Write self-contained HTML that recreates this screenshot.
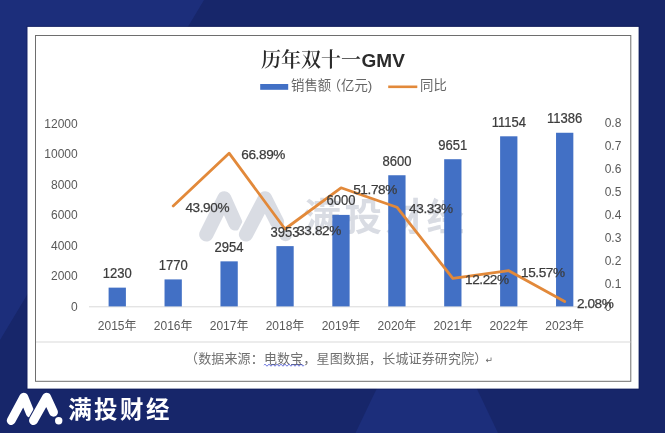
<!DOCTYPE html>
<html lang="zh"><head><meta charset="utf-8"><title>历年双十一GMV</title>
<style>html,body{margin:0;padding:0;background:#17266a}svg{display:block;filter:blur(0.4px)}
text{font-family:"Liberation Sans","Noto Sans CJK SC",sans-serif}
.ax{font-size:12px;fill:#595959}.dl{font-size:14.1px;fill:#3c3c3c;stroke:#3c3c3c;stroke-width:0.25px}.pl{font-size:13.6px;fill:#3c3c3c;stroke:#3c3c3c;stroke-width:0.25px;letter-spacing:-0.4px}
.lg{font-size:13.4px;fill:#666}.ft{font-size:13px;fill:#707070;letter-spacing:0.15px}
.ttl{font-family:"Liberation Serif","Noto Serif CJK SC",serif;font-size:20px;fill:#2b2b2b;font-weight:600}
.gmv{font-family:"Liberation Sans",sans-serif;font-weight:bold;font-size:19px;fill:#2b2b2b}
.brand{font-family:"Liberation Sans","Noto Sans CJK SC",sans-serif;font-weight:bold}
</style></head><body>
<svg width="665" height="433" viewBox="0 0 665 433">
<defs><g id="logo"><path d="M11.2 420.5 L23.8 397.2 L30.3 413.2" fill="none" stroke="currentColor" stroke-width="8.9" stroke-linecap="round" stroke-linejoin="round"/><path d="M33.5 420.5 L46.6 397.2" fill="none" stroke="var(--gap)" stroke-width="11" stroke-linecap="round"/><path d="M33.5 420.5 L46.6 397.2 L53.5 412.2" fill="none" stroke="currentColor" stroke-width="8.9" stroke-linecap="round" stroke-linejoin="round"/><circle cx="58.7" cy="420.8" r="3.7" fill="currentColor"/></g></defs>
<rect width="665" height="433" fill="#17266a"/>
<polygon points="0,0 204,0 0,340" fill="#1c2e7b"/>
<polygon points="426.8,284 355.5,433 498,433" fill="#1c2e7b"/>
<rect x="27" y="26.4" width="612.1" height="362.7" fill="none" stroke="#0f1750" stroke-opacity="0.55" stroke-width="1"/>
<rect x="27.5" y="26.9" width="611.1" height="361.7" fill="#fff"/>
<rect x="35.5" y="35.5" width="595.3" height="345.8" fill="none" stroke="#6e6e6e" stroke-width="1"/>
<line x1="36" y1="342" x2="630.5" y2="342" stroke="#d9d9d9" stroke-width="1"/>
<text class="ttl" x="261" y="66.6">历年双十一</text><text class="gmv" x="361.6" y="66.8">GMV</text>
<rect x="260.2" y="84" width="28" height="5.8" fill="#4270c5"/>
<text class="lg" x="291" y="90.4">销售额<tspan dx="-3.5">（</tspan>亿元)</text>
<line x1="388.2" y1="86.8" x2="417.3" y2="86.8" stroke="#e2893a" stroke-width="2.6"/>
<text class="lg" x="420" y="90.4">同比</text>
<text class="ax" x="77.7" y="310.8" text-anchor="end">0</text>
<text class="ax" x="77.7" y="280.3" text-anchor="end">2000</text>
<text class="ax" x="77.7" y="249.8" text-anchor="end">4000</text>
<text class="ax" x="77.7" y="219.3" text-anchor="end">6000</text>
<text class="ax" x="77.7" y="188.8" text-anchor="end">8000</text>
<text class="ax" x="77.7" y="158.3" text-anchor="end">10000</text>
<text class="ax" x="77.7" y="127.8" text-anchor="end">12000</text>
<text class="ax" x="604.7" y="310.5">0</text>
<text class="ax" x="604.7" y="287.6">0.1</text>
<text class="ax" x="604.7" y="264.7">0.2</text>
<text class="ax" x="604.7" y="241.8">0.3</text>
<text class="ax" x="604.7" y="218.9">0.4</text>
<text class="ax" x="604.7" y="196.0">0.5</text>
<text class="ax" x="604.7" y="173.1">0.6</text>
<text class="ax" x="604.7" y="150.2">0.7</text>
<text class="ax" x="604.7" y="127.3">0.8</text>
<line x1="89" y1="306.8" x2="593" y2="306.8" stroke="#d9d9d9" stroke-width="1"/>
<g opacity="0.33" style="filter:blur(0.7px)" fill="#8d96ad"><g fill="none" stroke="#8d96ad" stroke-width="14.2" stroke-linecap="round" stroke-linejoin="round"><path d="M206.3 234.5 L224.3 198.3 L235.5 223.5"/><path d="M246 234.5 L265 198.3" stroke="#fff" stroke-width="18"/><path d="M246 234.5 L265 198.3 L277 222"/></g><circle cx="285.6" cy="235.2" r="6.1"/><text class="brand" x="303.5" y="230.3" font-size="37.5" letter-spacing="3.5">满投财经</text></g>
<rect x="108.60" y="287.64" width="17.30" height="18.76" fill="#4270c5"/>
<rect x="164.53" y="279.41" width="17.30" height="26.99" fill="#4270c5"/>
<rect x="220.46" y="261.35" width="17.30" height="45.05" fill="#4270c5"/>
<rect x="276.39" y="246.12" width="17.30" height="60.28" fill="#4270c5"/>
<rect x="332.32" y="214.90" width="17.30" height="91.50" fill="#4270c5"/>
<rect x="388.25" y="175.25" width="17.30" height="131.15" fill="#4270c5"/>
<rect x="444.18" y="159.22" width="17.30" height="147.18" fill="#4270c5"/>
<rect x="500.11" y="136.30" width="17.30" height="170.10" fill="#4270c5"/>
<rect x="556.04" y="132.76" width="17.30" height="173.64" fill="#4270c5"/>
<polyline points="173.2,205.9 229.1,153.2 285.0,229.0 341.0,187.8 396.9,207.2 452.8,278.4 508.8,270.7 564.7,301.6" fill="none" stroke="#e2893a" stroke-width="2.8" stroke-linejoin="round" stroke-linecap="round"/>
<text class="dl" transform="translate(117.2 278.1) scale(0.925 1)" text-anchor="middle">1230</text>
<text class="dl" transform="translate(173.2 269.9) scale(0.925 1)" text-anchor="middle">1770</text>
<text class="dl" transform="translate(229.1 251.9) scale(0.925 1)" text-anchor="middle">2954</text>
<text class="dl" transform="translate(285.0 236.6) scale(0.925 1)" text-anchor="middle">3953</text>
<text class="dl" transform="translate(341.0 205.4) scale(0.925 1)" text-anchor="middle">6000</text>
<text class="dl" transform="translate(396.9 165.7) scale(0.925 1)" text-anchor="middle">8600</text>
<text class="dl" transform="translate(452.8 149.7) scale(0.925 1)" text-anchor="middle">9651</text>
<text class="dl" transform="translate(508.8 126.8) scale(0.925 1)" text-anchor="middle">11154</text>
<text class="dl" transform="translate(564.7 123.3) scale(0.925 1)" text-anchor="middle">11386</text>
<text class="pl" x="185.4" y="211.8">43.90%</text>
<text class="pl" x="241.3" y="159.1">66.89%</text>
<text class="pl" x="297.2" y="234.9">33.82%</text>
<text class="pl" x="353.2" y="193.7">51.78%</text>
<text class="pl" x="409.1" y="213.1">43.33%</text>
<text class="pl" x="465.0" y="284.3">12.22%</text>
<text class="pl" x="521.0" y="276.6">15.57%</text>
<text class="pl" x="576.9" y="307.5">2.08%</text>
<text class="ax" x="117.2" y="330.1" text-anchor="middle">2015年</text>
<text class="ax" x="173.2" y="330.1" text-anchor="middle">2016年</text>
<text class="ax" x="229.1" y="330.1" text-anchor="middle">2017年</text>
<text class="ax" x="285.0" y="330.1" text-anchor="middle">2018年</text>
<text class="ax" x="341.0" y="330.1" text-anchor="middle">2019年</text>
<text class="ax" x="396.9" y="330.1" text-anchor="middle">2020年</text>
<text class="ax" x="452.8" y="330.1" text-anchor="middle">2021年</text>
<text class="ax" x="508.8" y="330.1" text-anchor="middle">2022年</text>
<text class="ax" x="564.7" y="330.1" text-anchor="middle">2023年</text>
<text class="ft" x="185" y="363.2">（数据来源：电数宝，星图数据，长城证券研究院）</text>
<text x="485.5" y="362.5" font-size="9" fill="#666" style="font-family:'DejaVu Sans',sans-serif">↵</text>
<path d="M264 365.2 q1 -2 2 0 q1 2 2 0 q1 -2 2 0 q1 2 2 0 q1 -2 2 0 q1 2 2 0 q1 -2 2 0 q1 2 2 0 q1 -2 2 0 q1 2 2 0 q1 -2 2 0 q1 2 2 0 q1 -2 2 0 q1 2 2 0 q1 -2 2 0 q1 2 2 0 q1 -2 2 0 q1 2 2 0 q1 -2 2 0 q1 2 2 0" fill="none" stroke="#4450d6" stroke-width="0.9"/>
<g style="color:#fff;--gap:#17266a" fill="#fff"><use href="#logo"/>
<text class="brand" x="68.2" y="418" font-size="23.5" letter-spacing="2.4">满投财经</text></g>
</svg></body></html>
